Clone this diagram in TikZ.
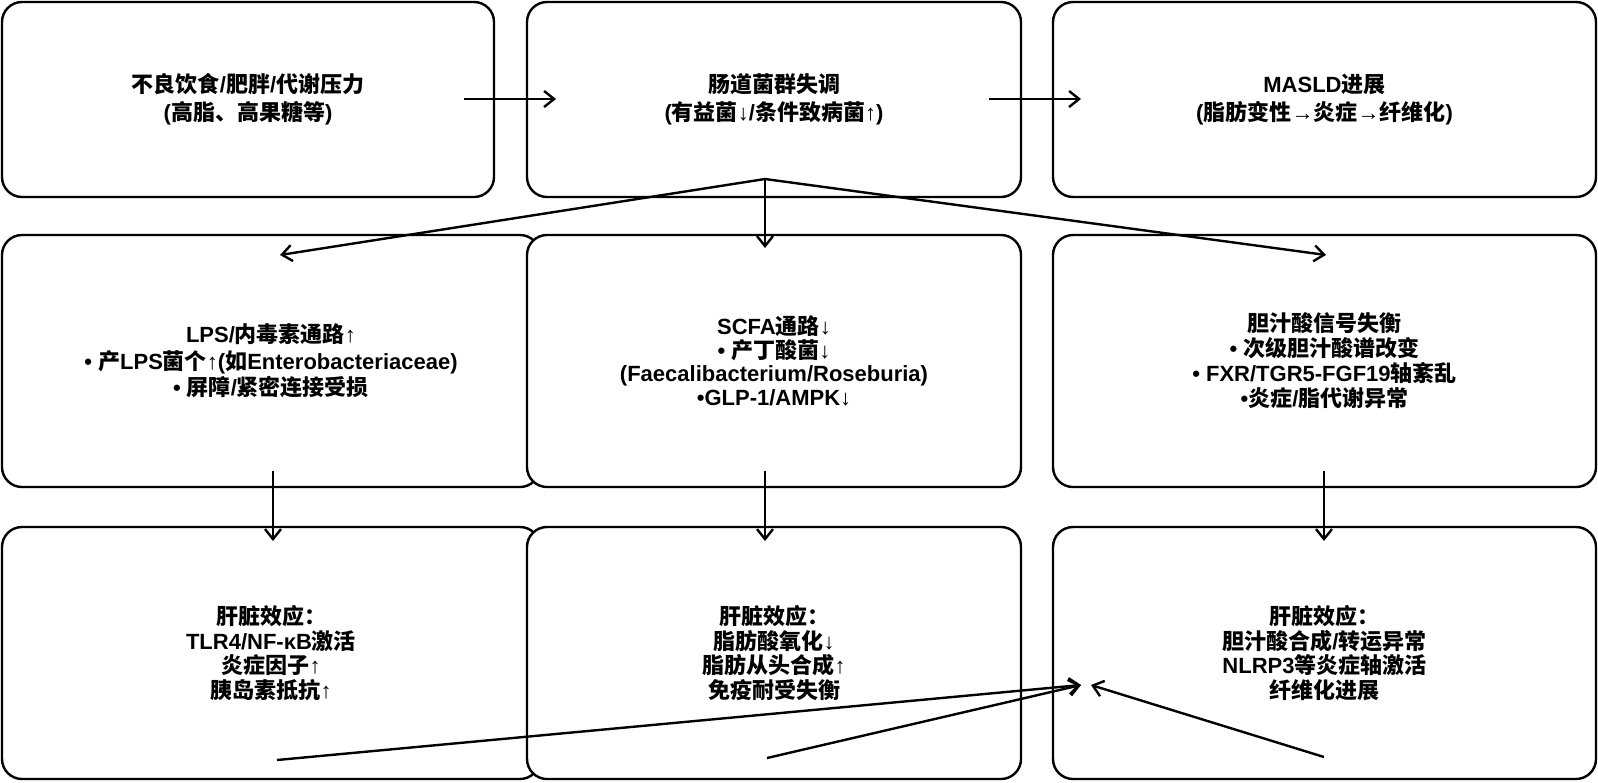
\documentclass[tikz,border=0pt]{standalone}
\usepackage{fontspec}
\setmainfont{Liberation Sans}
\newfontfamily\cjkfont{Noto Sans CJK SC}
\usetikzlibrary{arrows.meta}

% Chinese characters go to the CJK font, the rest stays in Liberation Sans
\XeTeXinterchartokenstate=1
\newXeTeXintercharclass\cjkclass
\count255="3000
\loop
  \XeTeXcharclass\count255=\cjkclass
  \advance\count255 by 1
\ifnum\count255<"A000\repeat
\count255="FF00
\loop
  \XeTeXcharclass\count255=\cjkclass
  \advance\count255 by 1
\ifnum\count255<"FFF0\repeat
\XeTeXinterchartoks 0 \cjkclass={\cjkfont}
\XeTeXinterchartoks 4095 \cjkclass={\cjkfont}
\XeTeXinterchartoks \cjkclass 0={\rmfamily}
\XeTeXinterchartoks \cjkclass 4095={\rmfamily}

\begin{document}
\begin{tikzpicture}[x=0.5pt,y=-0.5pt,
    box/.style={draw=black,line width=1.2,fill=white,rounded corners=10pt,
      align=center,inner sep=0pt,font=\fontsize{11}{#1}\selectfont\bfseries},
    box/.default=12.2pt,
    arr/.style={line width=1.2,-{Straight Barb[length=5pt,width=8pt]}}]

    \useasboundingbox (0,0) rectangle (1598,782);

    % top row
    \node[box=14pt,minimum width=246pt,minimum height=97.5pt] (diet) at (248,99.5)
      {不良饮食/肥胖/代谢压力\\(高脂、高果糖等)};

    \node[box=14pt,minimum width=247pt,minimum height=97.5pt] (dysb) at (774,99.5)
      {肠道菌群失调\\(有益菌↓/条件致病菌↑)};

    \node[box=14pt,minimum width=271.5pt,minimum height=97.5pt] (masld) at (1324.5,99.5)
      {MASLD进展\\(脂肪变性→炎症→纤维化)};

    % middle row
    \node[box=13.3pt,minimum width=269pt,minimum height=126pt] (lps) at (271,361)
      {LPS/内毒素通路↑\\• 产LPS菌个↑(如Enterobacteriaceae)\\• 屏障/紧密连接受损};

    \node[box=11.7pt,minimum width=247pt,minimum height=126pt] (scfa) at (774,361)
      {SCFA通路↓\\• 产丁酸菌↓\\(Faecalibacterium/Roseburia)\\•GLP-1/AMPK↓};

    \node[box=12.5pt,minimum width=271.5pt,minimum height=126pt] (bile) at (1324.5,361)
      {胆汁酸信号失衡\\• 次级胆汁酸谱改变\\• FXR/TGR5-FGF19轴紊乱\\•炎症/脂代谢异常};

    % bottom row
    \node[box,minimum width=269pt,minimum height=126pt] (liver1) at (271,653)
      {肝脏效应：\\TLR4/NF-κB激活\\炎症因子↑\\胰岛素抵抗↑};

    \node[box,minimum width=247pt,minimum height=126pt] (liver2) at (774,653)
      {肝脏效应：\\脂肪酸氧化↓\\脂肪从头合成↑\\免疫耐受失衡};

    \node[box,minimum width=271.5pt,minimum height=126pt] (liver3) at (1324.5,653)
      {肝脏效应：\\胆汁酸合成/转运异常\\NLRP3等炎症轴激活\\纤维化进展};

    % arrow ends
    \coordinate (diet-out) at (464,99);
    \coordinate (dysb-in) at (556,99);
    \coordinate (dysb-out) at (989,99);
    \coordinate (masld-in) at (1081,99);
    \coordinate (fan) at (765,179);
    \coordinate (lps-in) at (280,255);
    \coordinate (scfa-in) at (765,248);
    \coordinate (bile-in) at (1326,255);
    \coordinate (lps-out) at (273,471);
    \coordinate (scfa-out) at (765,471);
    \coordinate (bile-out) at (1324,471);
    \coordinate (liver1-in) at (273,541);
    \coordinate (liver2-in) at (765,541);
    \coordinate (liver3-in) at (1324,541);
    \coordinate (liver1-out) at (277,760);
    \coordinate (liver2-out) at (767,758);
    \coordinate (liver3-out) at (1324,757);
    \coordinate (sink) at (1081,685);
    \coordinate (sink2) at (1091,685);

    \draw[arr] (diet-out) -- (dysb-in);
    \draw[arr] (dysb-out) -- (masld-in);

    \draw[arr] (fan) -- (lps-in);
    \draw[arr] (fan) -- (scfa-in);
    \draw[arr] (fan) -- (bile-in);

    \draw[arr] (lps-out) -- (liver1-in);
    \draw[arr] (scfa-out) -- (liver2-in);
    \draw[arr] (bile-out) -- (liver3-in);

    \draw[arr] (liver1-out) -- (sink);
    \draw[arr] (liver2-out) -- (sink);
    \draw[arr] (liver3-out) -- (sink2);

  \end{tikzpicture}
\end{document}
